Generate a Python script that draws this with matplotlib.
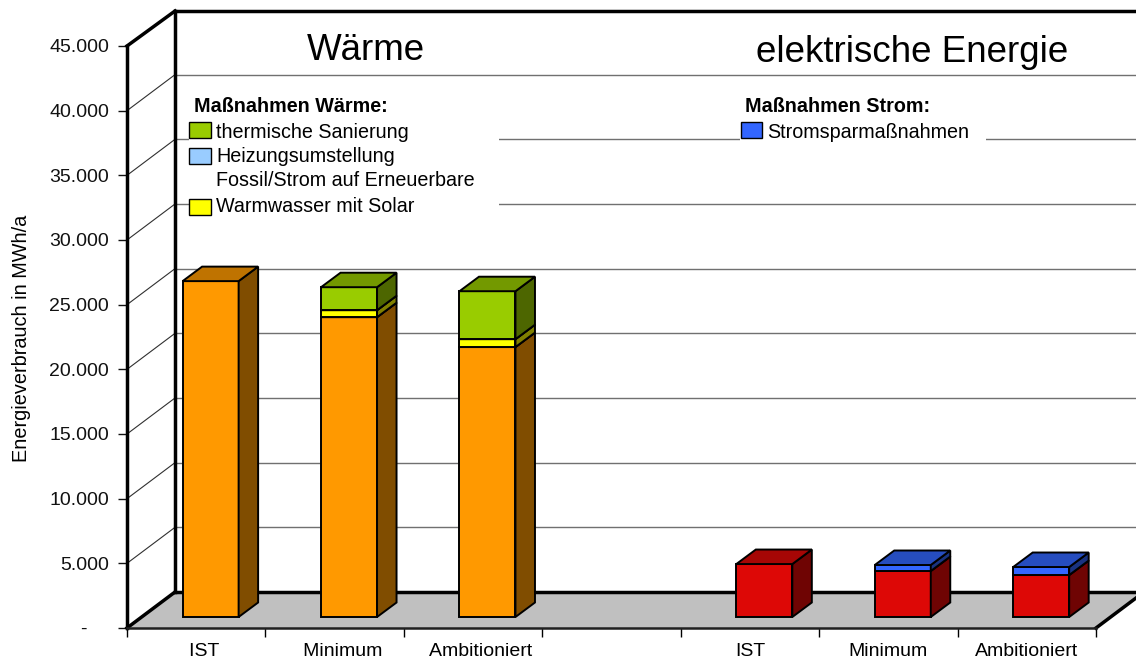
import numpy as np
import matplotlib
matplotlib.use("Agg")
import matplotlib.pyplot as plt
from matplotlib.patches import Polygon, Rectangle

plt.rcParams['font.family'] = ['Liberation Sans', 'DejaVu Sans']

# data (MWh/a)
categories = ["   IST", "   Minimum", "   Ambitioniert", "", "IST", "Minimum", "Ambitioniert"]
waerme_rest = [25970, 23180, 20870, 0, 0, 0, 0]
warmwasser = [0, 540, 610, 0, 0, 0, 0]
heizung = [0, 0, 0, 0, 0, 0, 0]
sanierung = [0, 1780, 3710, 0, 0, 0, 0]
strom_rest = [0, 0, 0, 0, 4095, 3555, 3245]
stromspar = [0, 0, 0, 0, 0, 465, 620]
yticks = list(range(0, 45001, 5000))

series = [
    (waerme_rest, "#FF9900"),
    (warmwasser, "#FFFF00"),
    (heizung, "#99CCFF"),
    (sanierung, "#99CC00"),
    (strom_rest, "#DD0806"),
    (stromspar, "#3366FF"),
]

W, H = 1136, 662
fig = plt.figure(figsize=(W / 100, H / 100), dpi=100)
ax = fig.add_axes([127 / W, (H - 628) / H, 969 / W, 582 / H])
ax.set_xlim(0, 7)
ax.set_ylim(0, 45000)
for s in ax.spines.values():
    s.set_visible(False)
ax.patch.set_visible(False)

# 3d offsets in data units
px_x = 7 / 969
px_y = 45000 / 582
wall_x, wall_y = 48 * px_x, 36 * px_y
off_x, off_y = 14.4 * px_x, 11 * px_y
deep_x, deep_y = 19.5 * px_x, 14.5 * px_y
bar_w = 56 * px_x
top_y = 45000 + 35 * px_y


def shade(col, f):
    c = np.array(matplotlib.colors.to_rgb(col))
    return tuple(c * f)


# floor
ax.add_patch(Polygon([(0, 0), (7, 0), (7 + wall_x, wall_y), (wall_x, wall_y)],
                     fc="#C0C0C0", ec="none", clip_on=False, zorder=1))

# gridlines
for v in yticks[1:-1]:
    ax.plot([0, wall_x], [v, v + wall_y], color="#303030", lw=0.8, clip_on=False, zorder=1)
    ax.plot([wall_x, 7 + wall_x], [v + wall_y, v + wall_y], color="#707070", lw=1, clip_on=False, zorder=1)

# frame
thick = dict(color="black", lw=2.5, clip_on=False, zorder=2, solid_capstyle="projecting")
ax.plot([0, 0], [0, 45000], **thick)
ax.plot([wall_x, wall_x], [wall_y, top_y], **thick)
ax.plot([0, wall_x], [45000, top_y], **thick)
ax.plot([0, wall_x], [0, wall_y], **thick)
ax.plot([wall_x, 7 + wall_x], [top_y, top_y], **thick)
ax.plot([wall_x, 7 + wall_x], [wall_y, wall_y], **thick)
ax.plot([7, 7 + wall_x], [0, wall_y], **thick)
ax.plot([0, 7], [0, 0], color="#202020", lw=1.8, clip_on=False, zorder=2)

# stacked bars with side and top faces
x = np.arange(7) + 0.5 + off_x
bottom = np.zeros(7) + off_y
for values, col in series:
    vals = np.array(values, dtype=float)
    for i in range(7):
        if vals[i] <= 0:
            continue
        left = x[i] - bar_w / 2
        right = x[i] + bar_w / 2
        b, t = bottom[i], bottom[i] + vals[i]
        ax.bar(left, vals[i], width=bar_w, bottom=b, align="edge", color=col,
               edgecolor="black", linewidth=1.4, zorder=3)
        ax.add_patch(Polygon([(right, b), (right + deep_x, b + deep_y),
                              (right + deep_x, t + deep_y), (right, t)],
                             fc=shade(col, 0.5), ec="black", lw=1.4, zorder=3))
        ax.add_patch(Polygon([(left, t), (right, t), (right + deep_x, t + deep_y),
                              (left + deep_x, t + deep_y)],
                             fc=shade(col, 0.75), ec="black", lw=1.4, zorder=3))
    bottom += vals

# axes ticks
ax.set_yticks(yticks)
ax.set_yticklabels(["-    "] + [f"{v:,}".replace(",", ".") for v in yticks[1:]], fontsize=14)
ax.tick_params(axis="y", length=6.5, width=1, pad=6.5, colors="#111111")
ax.set_xticks(range(8))
ax.set_xticklabels([])
ax.tick_params(axis="x", length=6.5, width=1)
ax.set_xticks(np.arange(7) + 0.5, minor=True)
ax.set_xticklabels(categories, minor=True, fontsize=14)
ax.tick_params(axis="x", which="minor", length=0, pad=11)
ax.set_ylabel("Energieverbrauch in MWh/a", fontsize=14.3, va="center")
ax.yaxis.set_label_coords(22 / W, (H - 338) / H, transform=fig.transFigure)


# text and legend blocks placed on the figure, pixel positions from the top left
def fx(p):
    return p / W


def fy(p):
    return (H - p) / H


def box(x0, y0, w, h, fc, ec="black", lw=1, z=5):
    fig.add_artist(Rectangle((fx(x0), fy(y0 + h)), w / W, h / H, fc=fc, ec=ec, lw=lw,
                             transform=fig.transFigure, zorder=z))


# white backing behind the legends hides the gridlines
box(189, 90, 310, 125, "white", ec="none", z=4)
box(740, 90, 246, 60, "white", ec="none", z=4)

fig.text(fx(366), fy(51), "Wärme", fontsize=26.5, ha="center", va="center", zorder=6)
fig.text(fx(912), fy(52), "elektrische Energie", fontsize=26.5, ha="center", va="center", zorder=6)

fig.text(fx(194), fy(106), "Maßnahmen Wärme:", fontsize=14.2, fontweight="bold", va="center", zorder=6)
fig.text(fx(745), fy(106), "Maßnahmen Strom:", fontsize=14.2, fontweight="bold", va="center", zorder=6)

box(189, 122, 22, 16, "#99CC00")
box(189, 148, 22, 16, "#99CCFF")
box(189, 199, 22, 16, "#FFFF00")
box(741, 122, 21, 16, "#3366FF")
fig.text(fx(216), fy(132), "thermische Sanierung", fontsize=14.2, va="center", zorder=6)
fig.text(fx(216), fy(157), "Heizungsumstellung", fontsize=14.2, va="center", zorder=6)
fig.text(fx(216), fy(181), "Fossil/Strom auf Erneuerbare", fontsize=14.2, va="center", zorder=6)
fig.text(fx(216), fy(206), "Warmwasser mit Solar", fontsize=14.2, va="center", zorder=6)
fig.text(fx(767), fy(132), "Stromsparmaßnahmen", fontsize=14.2, va="center", zorder=6)

fig.savefig("out.png", dpi=100)
